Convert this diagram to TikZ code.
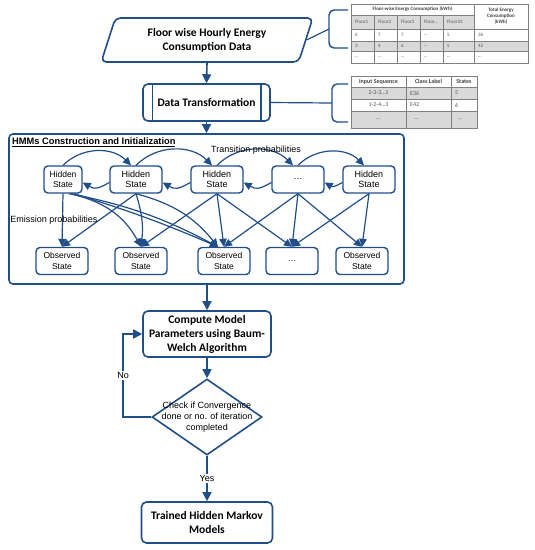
\documentclass[tikz,border=0pt]{standalone}
\usepackage{fontspec}
\setmainfont{Carlito}
\newfontfamily\arialf{Liberation Sans}
\usepackage{tikz}
\usetikzlibrary{arrows.meta,positioning,shapes.geometric}
\definecolor{flowblue}{RGB}{32,78,138}
\definecolor{cellgray}{RGB}{217,217,217}
\definecolor{celltext}{RGB}{89,89,89}
\definecolor{cellline}{RGB}{128,128,128}

\begin{document}
\begin{tikzpicture}[x=1pt,y=-1pt]
        \tikzstyle{box}
	  =[draw=flowblue, line width=1.6pt, rounded corners=5pt, align=center,
	  font=\bfseries\fontsize{11.5}{14}\selectfont, inner sep=0pt]
        \tikzstyle{state}
	  =[draw=flowblue, line width=1.4pt, rounded corners=4pt, align=center,
	  minimum width=52pt, minimum height=27pt, inner sep=0pt,
	  font=\arialf\fontsize{9}{10.5}\selectfont]
        \tikzstyle{arr}=[-{Triangle[length=9pt,width=9pt]}, draw=flowblue, line width=1.6pt]
        \tikzstyle{emit}=[-{Triangle[length=8pt,width=7.5pt]}, draw=flowblue, line width=1.2pt]
        \tikzstyle{cell}=[inner sep=0pt, text=celltext, font=\fontsize{5}{6}\selectfont]
        \tikzstyle{cellb}=[cell, text=black!75, font=\bfseries\fontsize{5}{6}\selectfont]
        \tikzstyle{lbl}=[inner sep=1pt, font=\arialf\fontsize{9}{11}\selectfont]
	\useasboundingbox (0,0) rectangle (535,550);

	% input data and transformation
	\node[box, trapezium, trapezium left angle=69, trapezium right angle=111,
	  trapezium stretches, minimum width=212pt, minimum height=44pt] (data)
	  at (207,40) {Floor wise Hourly Energy\\Consumption Data};
	\node[box, minimum width=127pt, minimum height=37pt] (trans)
	  at (206.5,102.5) {Data Transformation};
	\draw[flowblue, line width=1.4pt] ([xshift=10pt]trans.north west) -- ([xshift=10pt]trans.south west);
	\draw[flowblue, line width=1.4pt] ([xshift=-10pt]trans.north east) -- ([xshift=-10pt]trans.south east);
	\draw[arr] (data.south) -- (trans.north);

	% brackets
	\draw[flowblue, line width=1.4pt, rounded corners=5pt] (348,10) -- (329,10) -- (329,48) -- (348,48);
	\coordinate (br1) at (329,29);
	\draw[flowblue, line width=1.4pt, rounded corners=5pt] (348,84) -- (332,84) -- (332,122) -- (348,122);
	\coordinate (br2) at (332,103);
	\draw[flowblue, line width=1.2pt] (data.east) -- (br1);
	\draw[flowblue, line width=1.2pt] (trans.east) -- (br2);

	% table of floor-wise consumption
	\fill[cellgray] (351,15) rectangle (474,29);
	\fill[cellgray] (351,41) rectangle (528,51);
	\draw[cellline, line width=0.5pt] (351,4) rectangle (528,63);
	\draw[cellline, line width=0.5pt] (351,15) -- (474,15);
	\foreach \y in {29,41,51}
	  \draw[cellline, line width=0.5pt] (351,\y) -- (528,\y);
	\foreach \x in {374,397,420,443}
	  \draw[cellline, line width=0.5pt] (\x,15) -- (\x,63);
	\draw[cellline, line width=0.5pt] (474,4) -- (474,63);
	\node[cellb] (t1h) at (412.5,9.5) {Floor-wise Energy Consumption (kWh)};
	\node[cellb, align=center] (t1t) at (501,16.5) {Total Energy\\Consumption\\(kWh)};
	\foreach \x/\f/\a/\b in {351/Floor1/6/3, 374/Floor2/7/4, 397/Floor3/7/6,
	    420/Floor\ldots/\ldots/\ldots, 443/Floor33/5/5, 474//36/42} {
	  \node[cell, anchor=west] at (\x+4,22) {\f};
	  \node[cell, anchor=west] at (\x+4,35) {\a};
	  \node[cell, anchor=west] at (\x+4,46) {\b};
	  \node[cell, anchor=west] at (\x+4,57) {\ldots};
	}

	% table of sequences
	\fill[cellgray] (351,87) rectangle (477,99);
	\fill[cellgray] (351,111) rectangle (477,128);
	\draw[cellline, line width=0.5pt] (351,76) rectangle (477,128);
	\foreach \y in {87,99,111}
	  \draw[cellline, line width=0.5pt] (351,\y) -- (477,\y);
	\foreach \x in {406,451}
	  \draw[cellline, line width=0.5pt] (\x,76) -- (\x,128);
	\tikzstyle{cellc}=[cell, font=\fontsize{6}{7}\selectfont]
	\node[cellb, font=\bfseries\fontsize{6}{7}\selectfont] at (378.5,81.5) {Input Sequence};
	\node[cellb, font=\bfseries\fontsize{6}{7}\selectfont] at (428.5,81.5) {Class Label};
	\node[cellb, font=\bfseries\fontsize{6}{7}\selectfont] at (464,81.5) {States};
	\node[cellc] at (378.5,93) {2-3-3\ldots1};
	\node[cellc, anchor=west] at (410,93) {E36};
	\node[cellc, anchor=west] at (455,93) {5};
	\node[cellc] at (378.5,105) {1-2-4\ldots3};
	\node[cellc, anchor=west] at (410,105) {E42};
	\node[cellc, anchor=west] at (455,105) {6};
	\node[cellc] at (378.5,119.5) {\ldots};
	\node[cellc, anchor=west] at (414,119.5) {\ldots};
	\node[cellc, anchor=west] at (458,119.5) {\ldots};

	% HMM block
	\node[draw=flowblue, line width=1.6pt, rounded corners=4pt, minimum width=395pt,
	  minimum height=150pt, inner sep=0pt] (hmm) at (206.5,209) {};
	\node[anchor=west, inner sep=0pt, font=\arialf\bfseries\fontsize{9.3}{11}\selectfont] (title)
	  at (12,142) {\underline{HMMs Construction and Initialization}};
	\draw[arr] (trans.south) -- (trans.south |- hmm.north);

	\node[state, minimum width=38pt, font=\arialf\fontsize{8.5}{10.5}\selectfont] (H1)
	  at (63,179.5) {Hidden\\State};
	\node[state] (H2) at (136,179.5) {Hidden\\State};
	\node[state] (H3) at (217,179.5) {Hidden\\State};
	\node[state] (H4) at (298,179.5) {\ldots};
	\node[state] (H5) at (369,179.5) {Hidden\\State};
	\foreach \n/\x/\t in {O1/62/Observed\\State, O2/141/Observed\\State,
	    O3/224/Observed\\State, O4/292/\ldots, O5/362/Observed\\State}
	  \node[state, font=\arialf\fontsize{8.5}{11}\selectfont] (\n) at (\x,261) {\t};

	% transitions
	\foreach \a/\b in {H1/H2, H2/H3, H3/H4, H4/H5}
	  \draw[emit] (\a.north) to[bend left=45] ([xshift=-5pt]\b.north);
	\foreach \a/\b in {H2/H1, H3/H2, H4/H3, H5/H4}
	  \draw[emit] ([yshift=-3pt]\a.west) to[out=-150, in=-30, looseness=1.3] ([yshift=-3pt]\b.east);
	\node[lbl] (trp) at (256,150) {Transition probabilities};

	% emissions
	\foreach \s/\t in {H1/O1, H2/O1, H3/O2, H3/O3, H3/O4, H4/O3, H4/O4, H4/O5, H5/O4, H5/O5}
	  \draw[emit] (\s.south) -- (\t.north);
	\draw[emit] ([xshift=6pt]H1.south) to[bend left=25] (O2.north);
	\draw[emit] ([xshift=8pt]H1.south) to[bend left=8] ([xshift=-6pt]O3.north);
	\draw[emit] ([xshift=11pt]H1.south) to[bend left=3] ([xshift=-6pt]O3.north);
	\draw[emit] (H2.south) to[bend left=12] (O2.north);
	\draw[emit] (H2.south) to[bend left=18] ([xshift=-6pt]O3.north);
	\node[lbl] (emp) at (54,220) {Emission probabilities};

	% training loop
	\node[box, minimum width=128pt, minimum height=46pt] (comp)
	  at (207,334) {Compute Model\\Parameters using Baum-\\Welch Algorithm};
	\node[draw=flowblue, line width=1.6pt, diamond, aspect=1.45, minimum width=110pt,
	  minimum height=76pt, inner sep=-8pt, align=center,
	  font=\arialf\fontsize{9}{11}\selectfont] (check)
	  at (207,417) {Check if Convergence\\done or no. of iteration\\completed};
	\node[box, minimum width=131pt, minimum height=41pt] (train)
	  at (207,522.5) {Trained Hidden Markov\\Models};
	\draw[arr] (comp.north |- hmm.south) -- (comp.north);
	\draw[arr] (comp.south) -- (check.north);
	\draw[arr] (check.west) -- ++(-28pt,0) |- (comp.west)
	  node[lbl, pos=0.25, fill=white] {No};
	\draw[arr] (check.south) -- (train.north)
	  node[lbl, midway, fill=white] {Yes};
\end{tikzpicture}
\end{document}
